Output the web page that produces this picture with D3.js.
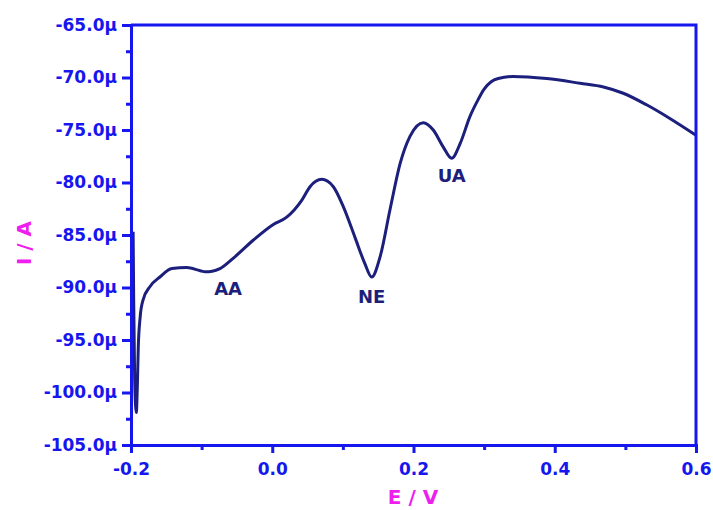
<!DOCTYPE html>
<html>
<head>
<meta charset="utf-8">
<script src="https://cdn.jsdelivr.net/npm/d3@7"></script>
<style>
  body { margin: 0; background: white; }
  svg { display: block; }
</style>
</head>
<body>
<div id="container"></div>
<script>
const canvasWidth = 713;
const canvasHeight = 510;

// potential (V) and current (µA)
const potential = [
  -0.197, -0.1962, -0.1948, -0.1925, -0.1908, -0.1897, -0.187, -0.183, -0.173, -0.159,
  -0.142, -0.121, -0.102, -0.095, -0.085, -0.074, -0.055, -0.027, 0.0015, 0.0205,
  0.0417, 0.0535, 0.07, 0.0865, 0.1006, 0.117, 0.131, 0.1408, 0.1526, 0.1667,
  0.181, 0.195, 0.2139, 0.228, 0.242, 0.254, 0.266, 0.28, 0.29, 0.30,
  0.31, 0.32, 0.341, 0.3886, 0.436, 0.469, 0.497, 0.53, 0.563, 0.6
];
const current = [
  -84.7, -91.2, -98.8, -101.9, -98.8, -95.7, -92.8, -91.2, -89.9, -89.0,
  -88.2, -88.1, -88.4, -88.5, -88.45, -88.2, -87.2, -85.5, -84.0, -83.3,
  -81.7, -80.4, -79.7, -80.4, -82.3, -85.2, -87.7, -89.0, -87.1, -82.6,
  -78.2, -75.6, -74.3, -75.0, -76.6, -77.7, -76.3, -73.7, -72.3, -71.1,
  -70.4, -70.1, -69.9, -70.1, -70.55, -70.9, -71.5, -72.6, -73.9, -75.5
];

// peak labels
const peakNames = ["AA", "NE", "UA"];
const peakX = [-0.0625, 0.1408, 0.254];
const peakY = [-88.6, -89.0, -77.7];

const xTicks = [-0.2, 0.0, 0.2, 0.4, 0.6];
const xMinor = [-0.1, 0.1, 0.3, 0.5];
const yTicks = [-105, -100, -95, -90, -85, -80, -75, -70, -65];
const yMinor = [-102.5, -97.5, -92.5, -87.5, -82.5, -77.5, -72.5, -67.5];

const axisBlue = "#1616ee";
const titlePink = "#ee1eee";
const lineNavy = "#1c1f7c";

const margin = { left: 131, right: 17, top: 25, bottom: 65 };
const plotW = canvasWidth - margin.left - margin.right;
const plotH = canvasHeight - margin.top - margin.bottom;

const data = potential.map((p, i) => ({ x: p, y: current[i] }));

const xScale = d3.scaleLinear().domain([-0.2, 0.6]).range([0, plotW]);
const yScale = d3.scaleLinear().domain([-105, -65]).range([plotH, 0]);

// plain hyphen instead of the unicode minus d3 uses
const fmt = v => d3.format(".1f")(v).replace("\u2212", "-");

let svg = d3.select("#container")
  .append("svg")
    .attr("width", canvasWidth)
    .attr("height", canvasHeight)
    .style("font-family", "'DejaVu Sans', sans-serif")
    .style("font-weight", "bold");

let chart = svg.append("g")
  .attr("transform", "translate(" + margin.left + "," + margin.top + ")");

// the curve
let line = d3.line()
  .x(d => xScale(d.x))
  .y(d => yScale(d.y))
  .curve(d3.curveMonotoneX);

chart.append("path")
  .datum(data)
  .attr("d", line)
  .attr("fill", "none")
  .attr("stroke", lineNavy)
  .attr("stroke-width", 3)
  .attr("stroke-linejoin", "round");

// top and right frame
chart.append("path")
  .attr("d", "M0,0H" + plotW + "V" + plotH)
  .attr("fill", "none")
  .attr("stroke", axisBlue)
  .attr("stroke-width", 3);

// minor ticks
chart.append("g")
  .attr("transform", "translate(0," + plotH + ")")
  .call(d3.axisBottom(xScale).tickValues(xMinor).tickSize(5).tickFormat(""))
  .call(styleAxis);

chart.append("g")
  .call(d3.axisLeft(yScale).tickValues(yMinor).tickSize(5).tickFormat(""))
  .call(styleAxis);

// major axes
chart.append("g")
  .attr("transform", "translate(0," + plotH + ")")
  .call(d3.axisBottom(xScale).tickValues(xTicks).tickSize(8).tickPadding(10)
    .tickFormat(fmt))
  .call(styleAxis);

chart.append("g")
  .call(d3.axisLeft(yScale).tickValues(yTicks).tickSize(9).tickPadding(5)
    .tickFormat(d => fmt(d) + "µ"))
  .call(styleAxis);

function styleAxis(g) {
  g.select(".domain").attr("stroke", axisBlue).attr("stroke-width", 3);
  g.selectAll(".tick line").attr("stroke", axisBlue).attr("stroke-width", 3);
  g.selectAll(".tick text")
    .attr("fill", axisBlue)
    .style("font-family", "'DejaVu Sans', sans-serif")
    .style("font-weight", "bold")
    .style("font-size", "17px");
}

// peak labels
chart.selectAll(".peak")
  .data(peakNames)
  .enter()
  .append("text")
    .attr("class", "peak")
    .attr("x", (d, i) => xScale(peakX[i]))
    .attr("y", (d, i) => yScale(peakY[i]) + (i == 0 ? 22 : i == 1 ? 26 : 24))
    .attr("text-anchor", "middle")
    .attr("fill", lineNavy)
    .style("font-size", "18px")
    .text(d => d);

// axis titles
svg.append("text")
  .attr("x", 413)
  .attr("y", 504)
  .attr("text-anchor", "middle")
  .attr("fill", titlePink)
  .style("font-size", "20px")
  .text("E / V");

svg.append("text")
  .attr("transform", "translate(31,243) rotate(-90)")
  .attr("text-anchor", "middle")
  .attr("fill", titlePink)
  .style("font-size", "20px")
  .text("I / A");
</script>
</body>
</html>
